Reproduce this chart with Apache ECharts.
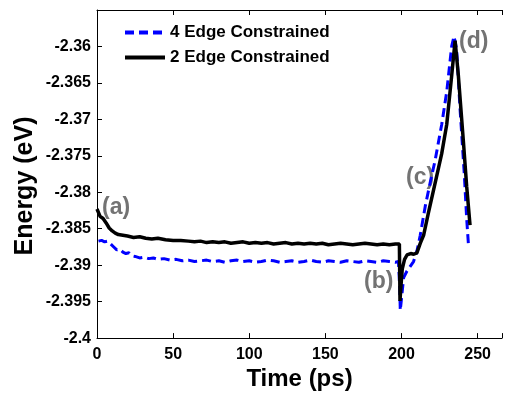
<!DOCTYPE html>
<html>
<head>
<meta charset="utf-8">
<script src="https://cdn.jsdelivr.net/npm/echarts@6/dist/echarts.min.js"></script>
<style>
  html, body { margin: 0; padding: 0; background: #fff; }
  #chart { width: 505px; height: 396px; }
</style>
</head>
<body>
<div id="chart"></div>
<script>
// 4 Edge Constrained (blue dashed)
const time4 = [1, 3, 5, 7, 9, 11, 13, 15, 17, 19, 21, 23, 25, 28, 31, 34, 37, 40, 44, 48, 52, 56,
  60, 64, 68, 72, 76, 80, 84, 88, 92, 96, 100, 104, 108, 112, 116, 120, 124, 128, 132, 136, 140,
  144, 148, 152, 156, 160, 164, 168, 172, 176, 180, 184, 188, 192, 196, 198, 198.8, 199.2,
  201.4, 203.6, 207.9, 210.1, 212.3, 215.6, 218.8, 222.1, 226.4, 229.7, 233, 234.5, 236.2,
  238.4, 241.2, 242.8, 243.9];
const energy4 = [-2.3867, -2.3866, -2.3868, -2.3867, -2.3871, -2.3875, -2.3879, -2.3878, -2.3882,
  -2.3884, -2.3883, -2.3887, -2.3888, -2.3890, -2.3889, -2.3891, -2.3890, -2.3892, -2.3891,
  -2.3893, -2.3892, -2.3894,
  -2.3893, -2.3895, -2.3894, -2.3893, -2.3895, -2.3894, -2.3896, -2.3894, -2.3893, -2.3895,
  -2.3894, -2.3896, -2.3895, -2.3893, -2.3894, -2.3896, -2.3895, -2.3894, -2.3896, -2.3895,
  -2.3893, -2.3895, -2.3896, -2.3894, -2.3895, -2.3896, -2.3894, -2.3895, -2.3896, -2.3894,
  -2.3895, -2.3896, -2.3894, -2.3895, -2.3896, -2.3895, -2.3930, -2.3962,
  -2.3917, -2.3908, -2.3895, -2.3881, -2.3859, -2.3819, -2.3787, -2.3756, -2.3707, -2.3662,
  -2.3599, -2.3586, -2.3604, -2.3684, -2.3774, -2.3836, -2.3870];

// 2 Edge Constrained (black solid)
const time2 = [0, 1, 2, 4, 6, 8, 10, 12, 14, 17, 20, 24, 28, 32, 36, 40, 45, 50, 55,
  60, 64, 68, 72, 76, 80, 84, 88, 92, 96, 100, 104, 108, 112, 116, 120, 124, 128, 132, 136, 140,
  144, 148, 152, 156, 160, 164, 168, 172, 176, 180, 184, 188, 192, 196, 198.6, 199, 199.5,
  200.5, 202, 203.6, 206, 208, 210.1, 212.3, 214.5, 217.7, 222.1, 226.4, 229.7, 233, 235.2,
  237.3, 240.6, 242.8, 245];
const energy2 = [-2.3823, -2.3828, -2.3833, -2.3836, -2.3842, -2.3849, -2.3853, -2.3856, -2.3858,
  -2.3859, -2.3860, -2.3862, -2.3861, -2.3863, -2.3864, -2.3863, -2.3865, -2.3866, -2.3866,
  -2.3867, -2.3868, -2.3867, -2.3869, -2.3868, -2.3869, -2.3868, -2.3870, -2.3869, -2.3868,
  -2.3870, -2.3869, -2.3870, -2.3869, -2.3871, -2.3870, -2.3869, -2.3871, -2.3870, -2.3871,
  -2.3870, -2.3871, -2.3870, -2.3872, -2.3871, -2.3870, -2.3871, -2.3872, -2.3871, -2.3870,
  -2.3871, -2.3872, -2.3871, -2.3872, -2.3871, -2.3871, -2.3949, -2.3932,
  -2.3905, -2.3892, -2.3886, -2.3884, -2.3885, -2.3883, -2.3870, -2.3859, -2.3828, -2.3787,
  -2.3747, -2.3707, -2.3639, -2.3592, -2.3639, -2.3729, -2.3792, -2.3845];

const xTicks = [0, 50, 100, 150, 200, 250];
const yTicks = [-2.4, -2.395, -2.39, -2.385, -2.38, -2.375, -2.37, -2.365, -2.36];

// annotation letters
const notes = ['(a)', '(b)', '(c)', '(d)'];

const pair = (ts, vs) => ts.map((t, i) => [t, vs[i]]);

const tickFont = { fontFamily: 'Liberation Sans', fontWeight: 'bold', fontSize: 16, color: '#000' };
const axisLine = { show: true, lineStyle: { color: '#000', width: 1 } };
const tickIn = { show: true, inside: true, length: 5, lineStyle: { color: '#000' } };
const noteFont = 'bold 23px "Liberation Sans"';

const chart = echarts.init(document.getElementById('chart'), null, { renderer: 'canvas' });
const option = {
  animation: false,
  backgroundColor: '#fff',
  grid: { left: 97, top: 10, right: 0, bottom: 51, show: false },
  legend: {
    orient: 'vertical',
    left: 118,
    top: 19,
    itemWidth: 40,
    itemHeight: 14,
    itemGap: 8,
    itemStyle: { opacity: 0 },
    lineStyle: { width: 4 },
    textStyle: { fontFamily: 'Liberation Sans', fontWeight: 'bold', fontSize: 17, color: '#000' },
    data: ['4 Edge Constrained', '2 Edge Constrained']
  },
  xAxis: [
    {
      type: 'value', min: 0, max: 266, interval: 50, position: 'bottom',
      name: 'Time (ps)', nameLocation: 'middle', nameGap: 21,
      nameTextStyle: { fontFamily: 'Liberation Sans', fontWeight: 'bold', fontSize: 24, color: '#000' },
      axisLine, axisTick: tickIn, splitLine: { show: false },
      axisLabel: Object.assign({ margin: 8, formatter: (v) => (xTicks.includes(v) ? String(v) : '') }, tickFont)
    },
    {
      type: 'value', min: 0, max: 266, interval: 50, position: 'top',
      axisLine, axisTick: tickIn, splitLine: { show: false }, axisLabel: { show: false }
    }
  ],
  yAxis: [
    {
      type: 'value', min: -2.4, max: -2.355, interval: 0.005, position: 'left',
      axisLine, axisTick: tickIn, splitLine: { show: false },
      axisLabel: Object.assign({
        margin: 6,
        formatter: (v) => {
          const r = parseFloat(v.toFixed(3));
          return yTicks.some((t) => Math.abs(t - r) < 1e-6) ? String(r) : '';
        }
      }, tickFont)
    },
    {
      type: 'value', min: -2.4, max: -2.355, interval: 0.005, position: 'right',
      axisLine: { show: false }, axisTick: { show: false }, splitLine: { show: false }, axisLabel: { show: false }
    }
  ],
  series: [
    {
      name: '4 Edge Constrained',
      type: 'line',
      symbol: 'none',
      data: pair(time4, energy4),
      lineStyle: { color: '#0000ff', width: 3, type: [9, 5] },
      itemStyle: { color: '#0000ff' }
    },
    {
      name: '2 Edge Constrained',
      type: 'line',
      symbol: 'none',
      data: pair(time2, energy2),
      lineStyle: { color: '#000', width: 3.5 },
      itemStyle: { color: '#000' }
    }
  ],
  graphic: [
    {
      type: 'text', x: 25, y: 186, rotation: Math.PI / 2,
      style: { text: 'Energy (eV)', font: 'bold 25px "Liberation Sans"', fill: '#000', align: 'center', verticalAlign: 'middle' }
    },
    { type: 'text', left: 102, top: 196, style: { text: notes[0], font: noteFont, fill: '#737373' } },
    { type: 'text', left: 364, top: 270, style: { text: notes[1], font: noteFont, fill: '#737373' } },
    { type: 'text', left: 406, top: 166, style: { text: notes[2], font: noteFont, fill: '#737373' } },
    { type: 'text', left: 459, top: 30, style: { text: notes[3], font: noteFont, fill: '#737373' } }
  ]
};
chart.setOption(option);
window.addEventListener('resize', () => {
  chart.resize();
});
</script>
</body>
</html>
